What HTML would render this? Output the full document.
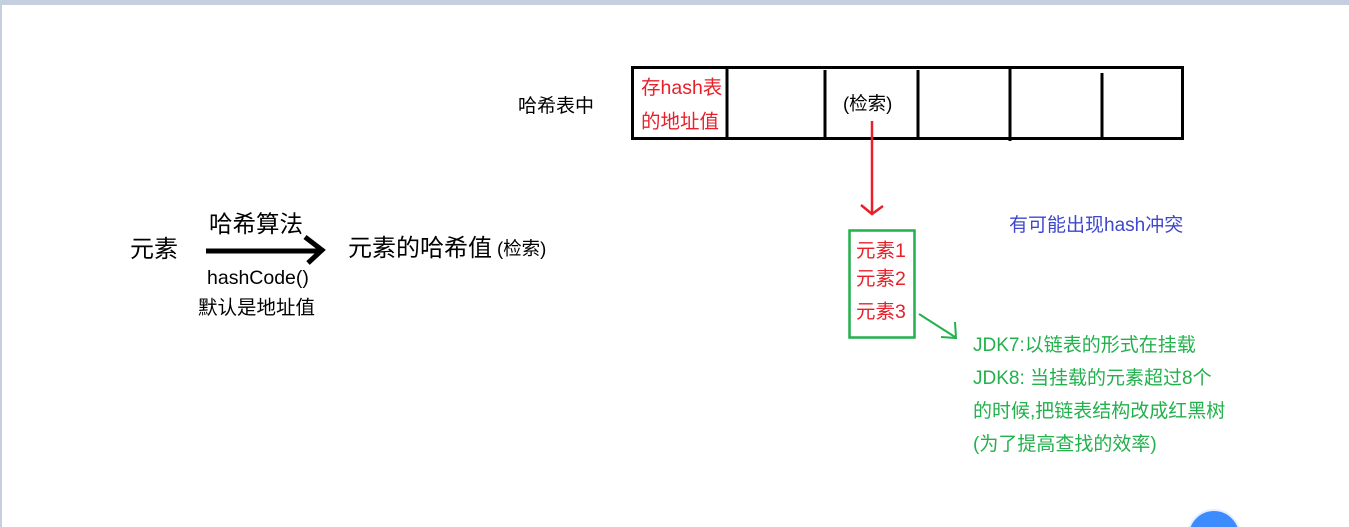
<!DOCTYPE html>
<html style="overflow:hidden"><head><meta charset="utf-8"><style>
html,body{margin:0;width:1349px;height:527px;overflow:hidden;}
body{background:#fff;position:relative;font-family:"Liberation Sans","Noto Sans CJK SC",sans-serif;}
.t{position:absolute;white-space:nowrap;line-height:1;}
</style></head><body>
<div style="position:absolute;left:0;top:0;width:1349px;height:5px;background:#c5cfe0"></div>
<div style="position:absolute;left:0;top:0;width:2px;height:527px;background:#c5cfe0"></div>
<svg width="1349" height="527" style="position:absolute;left:0;top:0;overflow:hidden">
<rect x="632.5" y="67.5" width="550" height="71" fill="none" stroke="#000" stroke-width="3"/>
<line x1="727" y1="67" x2="727" y2="139" stroke="#000" stroke-width="3"/>
<line x1="825" y1="70" x2="825" y2="139" stroke="#000" stroke-width="3"/>
<line x1="918" y1="70" x2="918" y2="137" stroke="#000" stroke-width="3"/>
<line x1="1010" y1="67" x2="1010" y2="141" stroke="#000" stroke-width="3"/>
<line x1="1102" y1="73" x2="1102" y2="139" stroke="#000" stroke-width="3"/>
<line x1="872" y1="121" x2="872" y2="213" stroke="#e8202a" stroke-width="2.5"/>
<polyline points="861,205 872,214 883,206" fill="none" stroke="#e8202a" stroke-width="2.5"/>
<line x1="206" y1="251" x2="320" y2="251" stroke="#000" stroke-width="5"/>
<polyline points="305,237 322,250 308,263" fill="none" stroke="#000" stroke-width="5"/>
<rect x="849.5" y="230.5" width="65" height="107" fill="none" stroke="#22b14c" stroke-width="2.5"/>
<line x1="919" y1="314" x2="955" y2="337" stroke="#22b14c" stroke-width="2"/>
<polyline points="941,337 956,338 955,322" fill="none" stroke="#22b14c" stroke-width="2"/>
<circle cx="1214" cy="536" r="26" fill="#3d8cff" stroke="#e6eefb" stroke-width="2"/>
</svg>
<div class="t" style="left:518px;top:97px;font-size:19px">哈希表中</div>
<div class="t" style="left:641px;top:79px;font-size:19.5px;color:#e8202a">存hash表</div>
<div class="t" style="left:641px;top:113px;font-size:19.5px;color:#e8202a">的地址值</div>
<div class="t" style="left:843px;top:95px;font-size:18.5px">(检索)</div>
<div class="t" style="left:130px;top:238px;font-size:24px">元素</div>
<div class="t" style="left:209px;top:213px;font-size:23.5px">哈希算法</div>
<div class="t" style="left:207px;top:269px;font-size:19.5px">hashCode()</div>
<div class="t" style="left:198px;top:299px;font-size:19.5px">默认是地址值</div>
<div class="t" style="left:348px;top:237px;font-size:24px">元素的哈希值</div>
<div class="t" style="left:497px;top:240px;font-size:18.5px">(检索)</div>
<div class="t" style="left:1009px;top:216px;font-size:19px;color:#3f48cc">有可能出现hash冲突</div>
<div class="t" style="left:856px;top:242px;font-size:19.5px;color:#e8202a">元素1</div>
<div class="t" style="left:856px;top:270px;font-size:19.5px;color:#e8202a">元素2</div>
<div class="t" style="left:856px;top:303px;font-size:19.5px;color:#e8202a">元素3</div>
<div class="t" style="left:973px;top:336px;font-size:19px;color:#22b14c">JDK7:以链表的形式在挂载</div>
<div class="t" style="left:973px;top:369px;font-size:19px;color:#22b14c">JDK8: 当挂载的元素超过8个</div>
<div class="t" style="left:973px;top:402px;font-size:19px;color:#22b14c">的时候,把链表结构改成红黑树</div>
<div class="t" style="left:973px;top:435px;font-size:19px;color:#22b14c">(为了提高查找的效率)</div>
</body></html>
